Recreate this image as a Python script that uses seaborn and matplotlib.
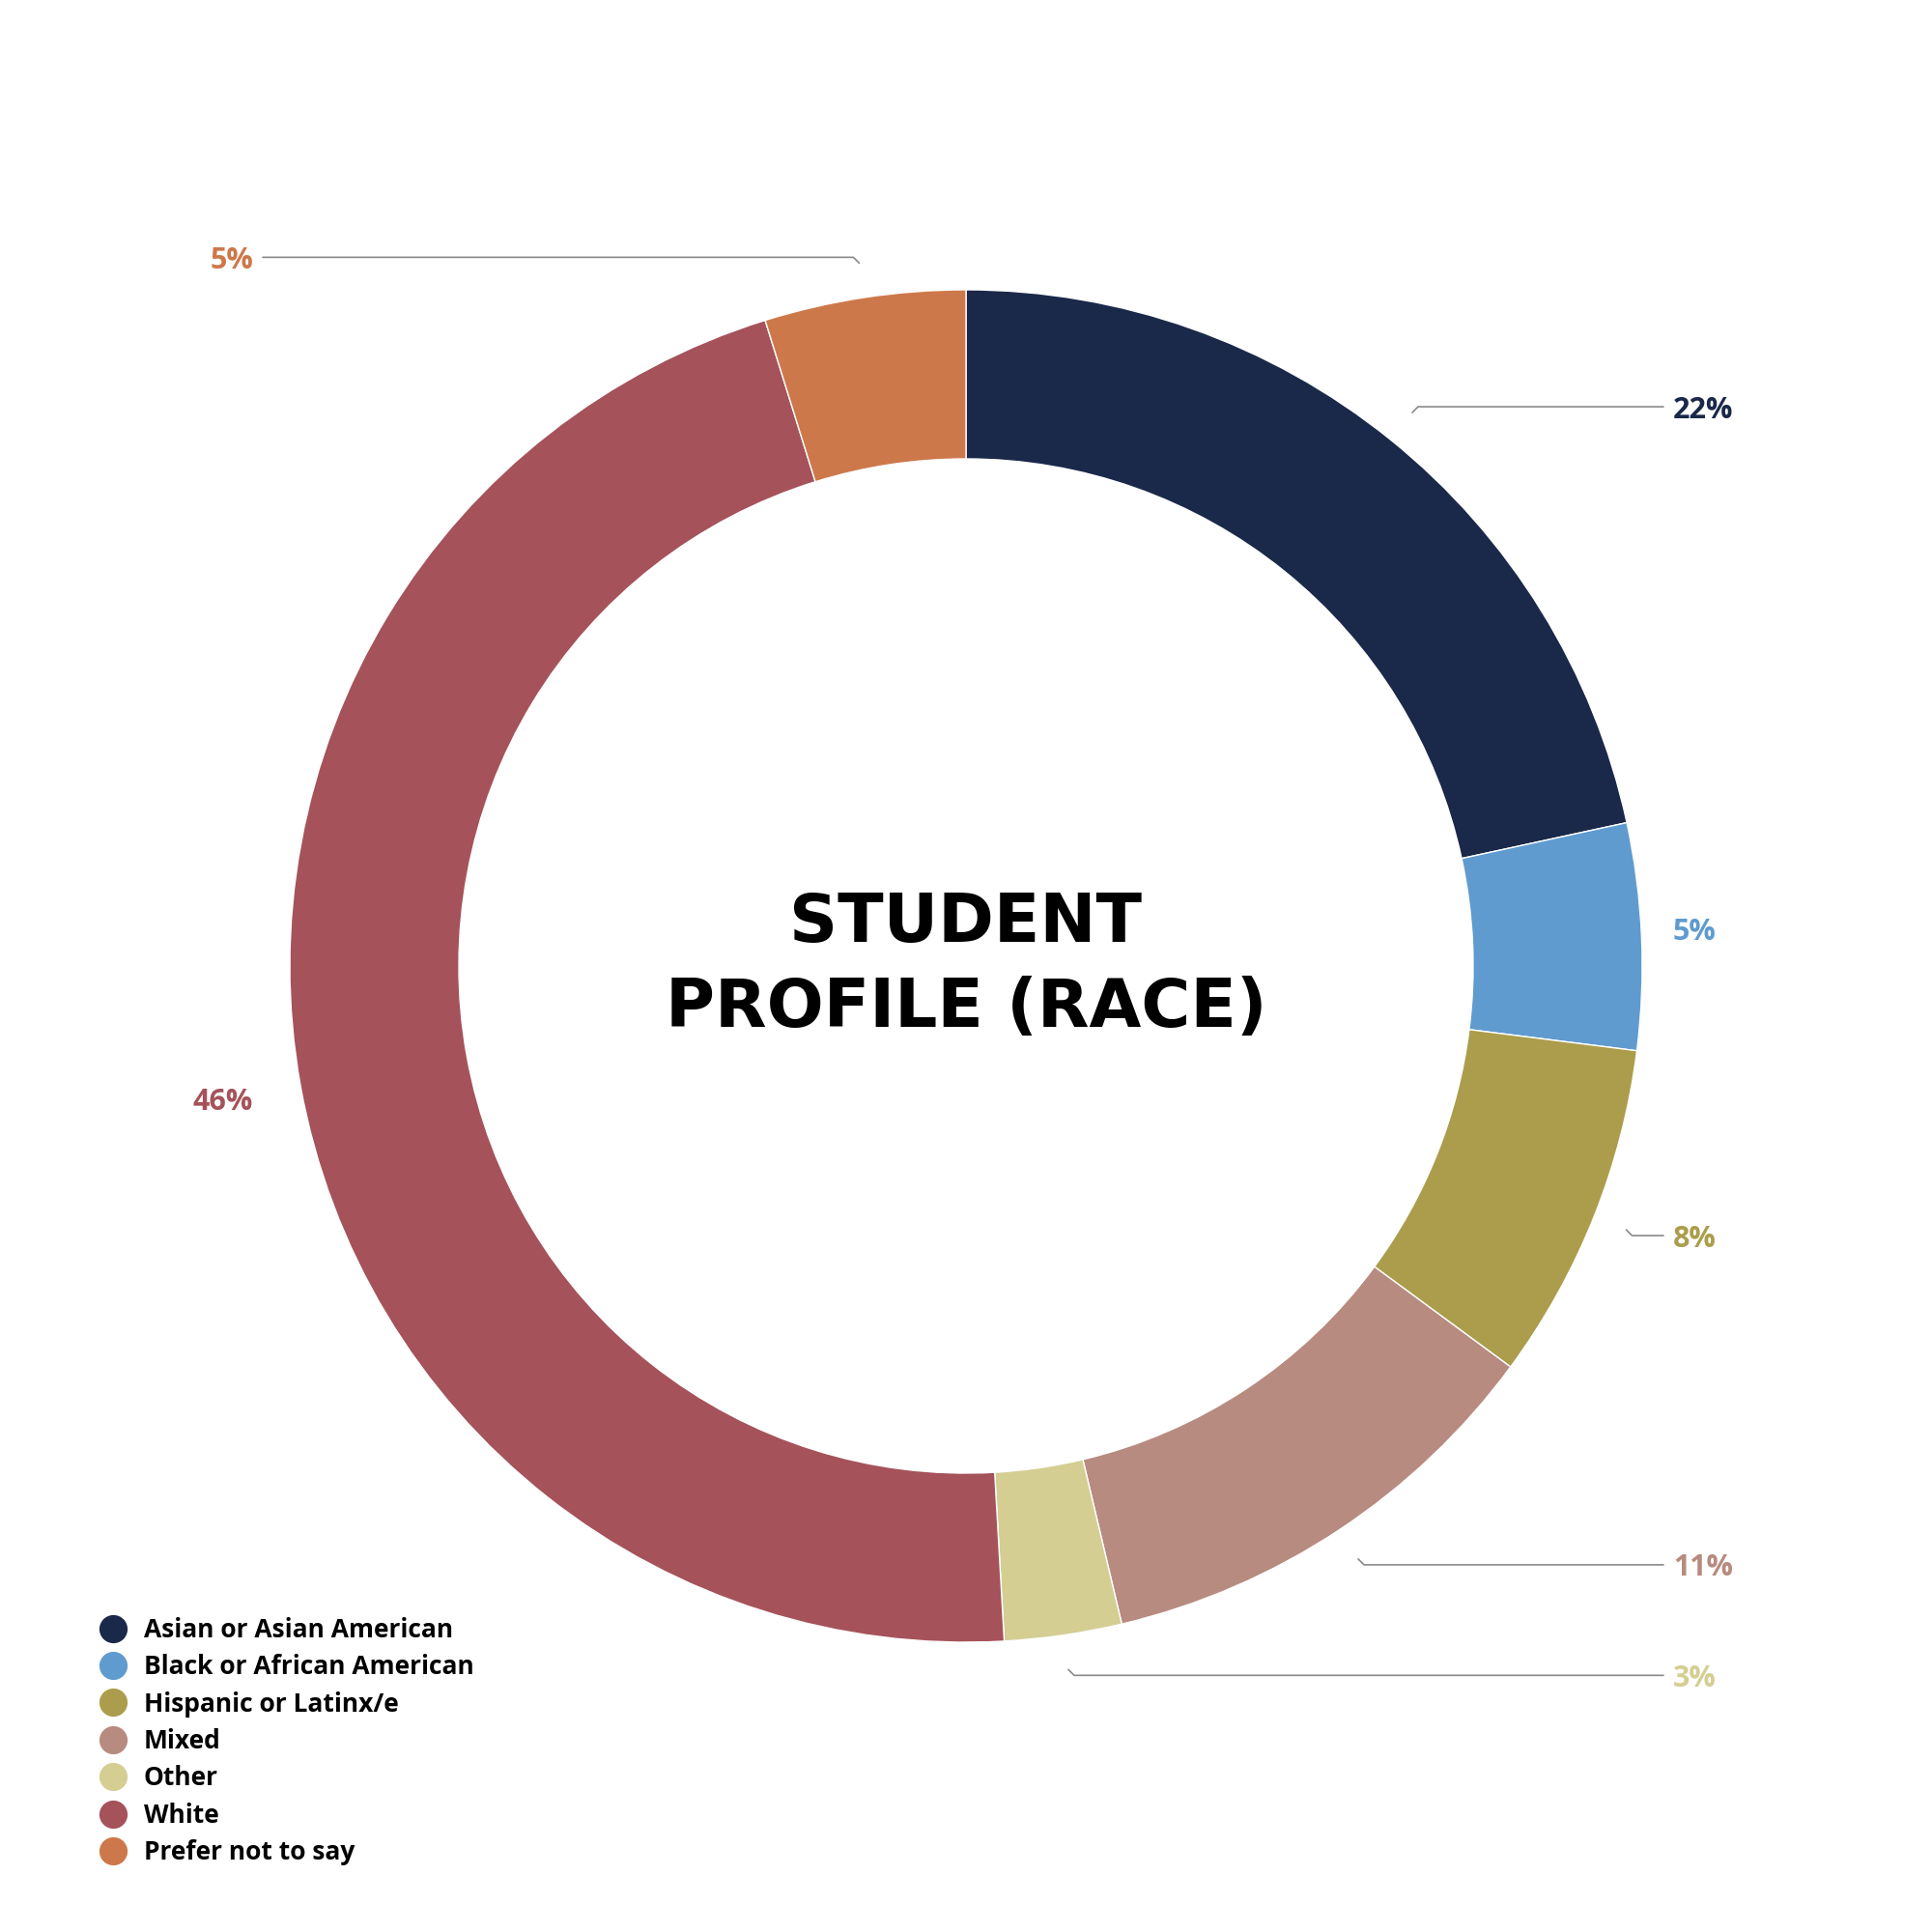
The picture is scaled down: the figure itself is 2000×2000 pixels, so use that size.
import numpy as np
import matplotlib
matplotlib.use("Agg")
import matplotlib.pyplot as plt
from matplotlib.lines import Line2D
import seaborn as sns

categories = ["Asian or Asian American", "Black or African American", "Hispanic or Latinx/e",
              "Mixed", "Other", "White", "Prefer not to say"]
shares = [21.6, 5.4, 8.1, 11.2, 2.8, 46.1, 4.8]
colors = ["#1a2849", "#5f9bcf", "#ab9d4b", "#b78b80", "#d4ce93", "#a5525a", "#cd784a"]
title_lines = ["STUDENT", "PROFILE (RACE)"]

sns.set_theme(style="white")
plt.rcParams["font.family"] = ["Open Sans", "DejaVu Sans"]

fig = plt.figure(figsize=(20, 20), dpi=100)
ax = fig.add_axes([0, 0, 1, 1])

cx, cy, R = 1000, 1000, 700
wedges, _ = ax.pie(shares, colors=colors, startangle=90, counterclock=False,
                   radius=R, center=(cx, cy),
                   wedgeprops=dict(width=R * 0.25, edgecolor="white", linewidth=1.0))
ax.set_xlim(0, 2000)
ax.set_ylim(0, 2000)
ax.set_aspect("equal")
ax.axis("off")

# data labels aligned to the plot edges, Highcharts style
r_conn = R + 36
right_edge, left_edge = 1722, 272
for w, val, col in zip(wedges, shares, colors):
    mid = np.deg2rad((w.theta1 + w.theta2) / 2)
    ax_x = cx + r_conn * np.cos(mid)
    ax_y = cy + r_conn * np.sin(mid)
    side = 1 if np.cos(mid) >= 0 else -1
    ly = ax_y + 6 * np.sign(np.sin(mid))
    edge = right_edge if side > 0 else left_edge
    if abs(edge - ax_x) > 25:
        ax.plot([ax_x, ax_x + 6 * side, edge], [ax_y, ly, ly], color="#8a8a8a", lw=1.2)
    ax.text(edge + 10 * side, ly, f"{round(val)}%", color=col, fontsize=22,
            fontweight="bold", ha="left" if side > 0 else "right", va="center_baseline")

ax.text(cx, 2000 - 955, title_lines[0], ha="center", va="center", fontsize=50,
        fontweight="bold", family="DejaVu Sans", color="black")
ax.text(cx, 2000 - 1044, title_lines[1], ha="center", va="center", fontsize=50,
        fontweight="bold", family="DejaVu Sans", color="black")

handles = [Line2D([0], [0], marker="o", linestyle="none", markersize=20,
                  markerfacecolor=c, markeredgecolor=c) for c in colors]
fig.legend(handles, categories, loc="upper left", bbox_to_anchor=(0.052, 0.163),
           frameon=False, handlelength=1.0, handletextpad=0.7,
           labelspacing=0.43, borderpad=0, borderaxespad=0, labelcolor="black",
           prop={"family": ["Open Sans", "DejaVu Sans"], "weight": "bold", "size": 19})

fig.savefig("out.png", dpi=100, facecolor="white")
